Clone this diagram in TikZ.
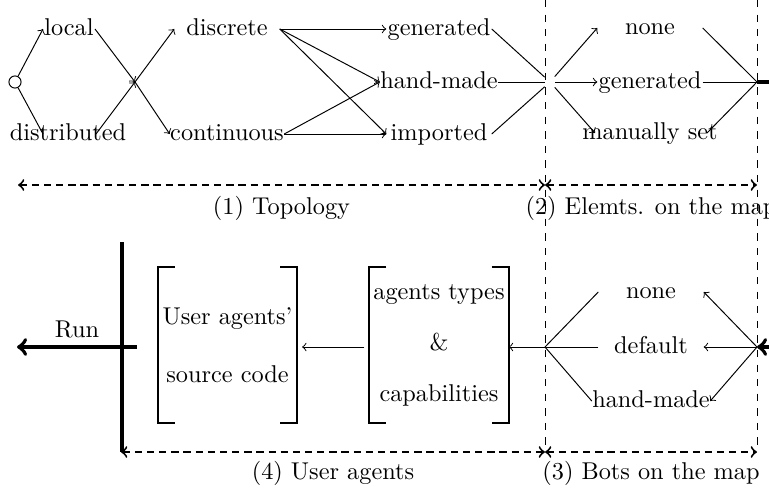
\documentclass[tikz,border=0pt]{standalone}
\usetikzlibrary{arrows,calc,positioning}

\tikzset{
  choice/.style={inner sep=0pt, minimum width=43pt, text height=1.5ex, text depth=.25ex},
  firstchoice/.style={choice, minimum width=21pt},
  hub/.style={inner sep=0pt, minimum size=4pt},
  phase/.style={thick, dash pattern=on 3pt off 2pt, <->},
  border/.style={dashed},
  bracketbox/.style={inner sep=0pt, minimum width=57pt, minimum height=63.5pt, align=center},
}

\begin{document}
\begin{tikzpicture}[x=0.4115pt, y=-0.4115pt]
  \clip (0,0) rectangle (769,491);

  % borders between the phases
  \draw[border] (545,0) -- (545,452);
  \draw[border] (757,0) -- (757,452);

  % (1) Topology
  \node[draw, circle, minimum size=5pt, inner sep=0pt] (start) at (15,82) {};
  \node[firstchoice] (local) at (69,29) {local};
  \node[firstchoice] (distributed) at (68,134) {distributed};
  \coordinate (hub1) at (135,82);
  \draw[->] (start) -- (local.west);
  \draw (start) -- ($(distributed)+(-25,0)$);
  \draw[->] (local.east) -- (hub1);
  \draw[->] ($(distributed)+(28,0)$) -- (hub1);

  \node[choice] (discrete) at (227,29) {discrete};
  \node[choice] (continuous) at (227,134) {continuous};
  \draw[->] (hub1) -- (discrete.west);
  \draw[->] (hub1) -- (continuous.west);

  \node[choice] (generated) at (439,29) {generated};
  \node[choice] (handmade) at (439,82) {hand-made};
  \node[choice] (imported) at (439,134) {imported};
  \draw[->] (discrete.east) -- (generated.west);
  \draw[->] (discrete.east) -- (handmade.west);
  \draw[->] (discrete.east) -- (imported.west);
  \draw[->] (continuous.east) -- (handmade.west);
  \draw[->] (continuous.east) -- (imported.west);

  % (2) Elements on the map
  \node[hub] (hub2) at (550,82) {};
  \draw (generated.east) -- (hub2);
  \draw (handmade.east) -- (hub2);
  \draw (imported.east) -- (hub2);

  \node[choice] (none) at (650,28) {none};
  \node[choice] (mapgenerated) at (650,82) {generated};
  \node[choice] (manual) at (650,133) {manually set};
  \draw[->] (hub2) -- (none.west);
  \draw[->] (hub2) -- (mapgenerated.west);
  \draw[->] (hub2) -- ($(manual)+(-55,0)$);

  \coordinate (hub3) at (757,82);
  \draw (none.east) -- (hub3);
  \draw (mapgenerated.east) -- (hub3);
  \draw ($(manual)+(57,0)$) -- (hub3);

  % (3) Bots on the map
  \coordinate (hub4) at (757,347);
  \draw[ultra thick, ->] (hub3) -- ++(40,0) |- (hub4);

  \node[choice] (nobots) at (651,292) {none};
  \node[choice] (defaultbots) at (651,347) {default};
  \node[choice] (handbots) at (651,401) {hand-made};
  \draw[->] (hub4) -- (nobots.east);
  \draw[->] (hub4) -- (defaultbots.east);
  \draw[->] (hub4) -- (handbots.east);

  \coordinate (hub5) at (545,347);
  \draw (nobots.west) -- (hub5);
  \draw (defaultbots.west) -- (hub5);
  \draw (handbots.west) -- (hub5);

  % (4) User agents
  \node[bracketbox] (agenttypes) at (439,345) {agents types\\[9pt]\&\\[9pt]capabilities};
  \node[bracketbox] (usercode) at (227.5,345) {User agents'\\[12pt]source code};
  \foreach \b in {usercode, agenttypes} {
    \draw[thick] ([xshift=7pt]\b.north west) -- (\b.north west) -- (\b.south west) -- ([xshift=7pt]\b.south west);
    \draw[thick] ([xshift=-7pt]\b.north east) -- (\b.north east) -- (\b.south east) -- ([xshift=-7pt]\b.south east);
  }
  \draw[->] (hub5) -- (hub5 -| agenttypes.east);
  \draw[->, shorten <=2pt, shorten >=2pt] (hub5 -| agenttypes.west) -- (hub5 -| usercode.east);

  % run
  \draw[ultra thick] (122,242) -- (122,452);
  \coordinate (runfrom) at (137,347);
  \coordinate (runto) at (17,347);
  \draw[ultra thick, ->] (runfrom) -- (runto);
  \node (run) at (77,329) {Run};

  % time line of the phases
  \coordinate (t0) at (18,185);
  \coordinate (t1) at (545,185);
  \coordinate (t2) at (757,185);
  \draw[phase] (t0) -- (t1);
  \draw[phase] (t1) -- (t2);
  \node (topology) at (281.5,208) {(1) Topology};
  \node (elements) at (651,208) {(2) Elemts. on the map};

  \coordinate (b0) at (121,452);
  \coordinate (b1) at (545,452);
  \coordinate (b2) at (757,452);
  \draw[phase] (b0) -- (b1);
  \draw[phase] (b1) -- (b2);
  \node (useragents) at (333,473) {(4) User agents};
  \node (bots) at (651,473) {(3) Bots on the map};
\end{tikzpicture}
\end{document}
